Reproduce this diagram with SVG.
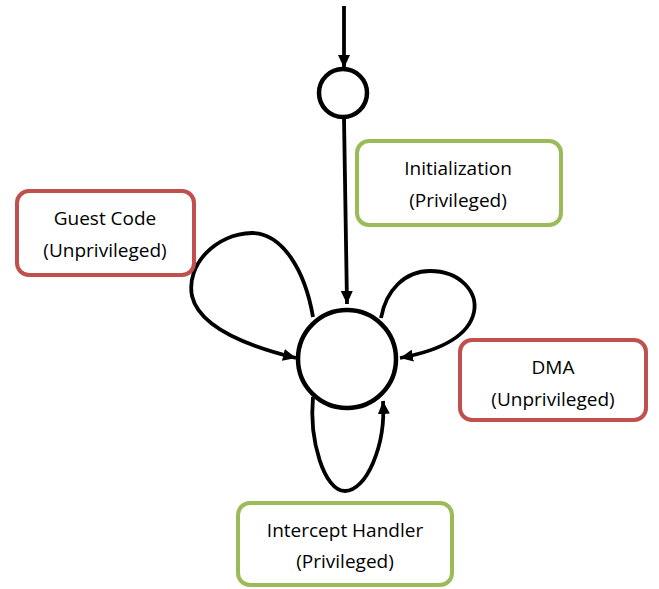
<svg xmlns="http://www.w3.org/2000/svg" width="659" height="589" viewBox="0 0 659 589">
  <style>
    .state { fill: #fff; stroke: #000; stroke-width: 4.5; }
    .edge { fill: none; stroke: #000; stroke-width: 3.8; }
    .box { fill: #fff; stroke-width: 4; }
    .priv { stroke: #9BBB59; }
    .unpriv { stroke: #C0504D; }
    .label { font-family: "Open Sans", "Liberation Sans", sans-serif; font-size: 19px; fill: #000; text-anchor: middle; }
  </style>
  <defs>
    <marker id="arrow" markerUnits="userSpaceOnUse" markerWidth="14" markerHeight="12" refX="13" refY="6" orient="auto">
      <path d="M0,0 L13,6 L0,12 Z" fill="#000"/>
    </marker>
  </defs>

  <g id="connectors">
    <!-- entry into the initial state -->
    <path class="edge" d="M344,6 L344,68" marker-end="url(#arrow)"/>
    <!-- initial state to the main state -->
    <path class="edge" d="M344,118 L347,304" marker-end="url(#arrow)"/>
    <!-- guest code self-loop -->
    <path class="edge" d="M313,317 C 305,270 282,233 252,233 C 215,234 186,265 192,296 C 200,330 255,348 296,358" marker-end="url(#arrow)"/>
    <!-- DMA self-loop -->
    <path class="edge" d="M381,318 C 386,290 405,271 430,271 C 460,271 478,292 474,312 C 468,340 432,352 400,358" marker-end="url(#arrow)"/>
    <!-- intercept handler self-loop -->
    <path class="edge" d="M313,397 C 309,440 324,491 345,491 C 366,491 386,446 383,401" marker-end="url(#arrow)"/>
  </g>

  <g id="init-state">
    <circle class="state" cx="343" cy="93" r="24"/>
  </g>
  <g id="main-state">
    <circle class="state" cx="347" cy="359" r="49"/>
  </g>

  <g id="guest-code">
    <rect class="box unpriv" x="17" y="191" width="177" height="84" rx="12"/>
    <text class="label" x="105" y="225">Guest Code</text>
    <text class="label" x="105" y="257">(Unprivileged)</text>
  </g>
  <g id="initialization">
    <rect class="box priv" x="357" y="141" width="204" height="84" rx="12"/>
    <text class="label" x="458" y="175">Initialization</text>
    <text class="label" x="458" y="207">(Privileged)</text>
  </g>
  <g id="dma">
    <rect class="box unpriv" x="460" y="340" width="186" height="80" rx="12"/>
    <text class="label" x="553" y="374">DMA</text>
    <text class="label" x="553" y="406">(Unprivileged)</text>
  </g>
  <g id="intercept-handler">
    <rect class="box priv" x="238" y="503" width="214" height="82" rx="12"/>
    <text class="label" x="345" y="537">Intercept Handler</text>
    <text class="label" x="345" y="568">(Privileged)</text>
  </g>
</svg>
